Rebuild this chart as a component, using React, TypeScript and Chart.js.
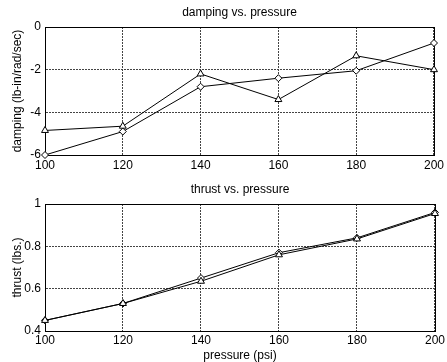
import React, { useEffect, useRef } from "react";
import { Chart, registerables } from "chart.js";

Chart.register(...registerables);

const pressure = [100, 120, 140, 160, 180, 200];
const xTicks = [100, 120, 140, 160, 180, 200];

const dampingDiamond = [-6.0, -4.9, -2.8, -2.4, -2.05, -0.75];
const dampingTriangle = [-4.85, -4.65, -2.2, -3.4, -1.35, -2.0];
const dampingTicks = [0, -2, -4, -6];

const thrustDiamond = [0.45, 0.53, 0.65, 0.77, 0.84, 0.96];
const thrustTriangle = [0.45, 0.53, 0.635, 0.76, 0.835, 0.955];
const thrustTicks = [1, 0.8, 0.6, 0.4];

const FONT = "'Liberation Sans', Arial, sans-serif";

const framePlugin = {
  id: "frame",
  beforeDatasetsDraw(chart: any) {
    const { ctx, chartArea } = chart;
    const { left, top, right, bottom } = chartArea;
    ctx.save();
    ctx.strokeStyle = "#000";
    ctx.lineWidth = 1;
    ctx.strokeRect(Math.round(left) + 0.5, Math.round(top) + 0.5, Math.round(right - left), Math.round(bottom - top));
    ctx.restore();
  },
};

function makeConfig(opts: {
  title: string;
  yTitle: string;
  xTitle?: string;
  yMin: number;
  yMax: number;
  yTicks: number[];
  diamonds: number[];
  triangles: number[];
  xHeight: number;
  titlePad: { top: number; bottom: number };
  xTickPad: number;
}): any {
  const toPts = (arr: number[]) => pressure.map((x, i) => ({ x, y: arr[i] }));
  return {
    type: "line",
    data: {
      datasets: [
        {
          data: toPts(opts.triangles),
          borderColor: "#000",
          borderWidth: 1,
          backgroundColor: "#fff",
          pointStyle: "triangle",
          pointRadius: 4,
          pointBorderColor: "#000",
          pointBackgroundColor: "#fff",
          pointBorderWidth: 1,
          tension: 0,
          fill: false,
          clip: false,
        },
        {
          data: toPts(opts.diamonds),
          borderColor: "#000",
          borderWidth: 1,
          backgroundColor: "#fff",
          pointStyle: "rectRot",
          pointRadius: 3.5,
          pointBorderColor: "#000",
          pointBackgroundColor: "#fff",
          pointBorderWidth: 1,
          tension: 0,
          fill: false,
          clip: false,
        },
      ],
    },
    options: {
      responsive: false,
      animation: false,
      events: [],
      layout: { padding: { left: 0, right: 10, top: 0, bottom: 0 } },
      plugins: {
        legend: { display: false },
        tooltip: { enabled: false },
        title: {
          display: true,
          text: opts.title,
          color: "#000",
          fullSize: false,
          font: { family: FONT, size: 12, weight: "normal", lineHeight: 1.2 },
          padding: opts.titlePad,
        },
      },
      scales: {
        x: {
          type: "linear",
          min: 100,
          max: 200,
          afterFit: (s: any) => {
            s.height = opts.xHeight;
          },
          afterBuildTicks: (s: any) => {
            s.ticks = xTicks.map((v) => ({ value: v }));
          },
          ticks: {
            color: "#000",
            font: { family: FONT, size: 12 },
            padding: opts.xTickPad,
            maxRotation: 0,
            autoSkip: false,
            callback: (v: any) => String(v),
          },
          grid: { color: "#444", lineWidth: 1, drawTicks: false },
          border: { display: true, color: "#000", dash: [2, 1] },
          title: opts.xTitle
            ? {
                display: true,
                text: opts.xTitle,
                color: "#000",
                font: { family: FONT, size: 12, lineHeight: 1.0 },
                padding: { top: 0, bottom: 0 },
              }
            : { display: false },
        },
        y: {
          type: "linear",
          min: opts.yMin,
          max: opts.yMax,
          afterFit: (s: any) => {
            s.width = 45;
          },
          afterBuildTicks: (s: any) => {
            s.ticks = opts.yTicks.map((v) => ({ value: v }));
          },
          ticks: {
            color: "#000",
            font: { family: FONT, size: 12 },
            padding: 4,
            callback: (v: any) => String(Number(Number(v).toFixed(2))),
          },
          grid: { color: "#444", lineWidth: 1, drawTicks: false },
          border: { display: true, color: "#000", dash: [2, 1] },
          title: {
            display: true,
            text: opts.yTitle,
            color: "#000",
            font: { family: FONT, size: 12, lineHeight: 1.2 },
            padding: { top: 10, bottom: 0 },
          },
        },
      },
    },
    plugins: [framePlugin],
  };
}

export default function App() {
  const topRef = useRef<HTMLCanvasElement | null>(null);
  const botRef = useRef<HTMLCanvasElement | null>(null);

  useEffect(() => {
    if (!topRef.current || !botRef.current) return;
    const c1 = new Chart(
      topRef.current,
      makeConfig({
        title: "damping vs. pressure",
        yTitle: "damping (lb-in/rad/sec)",
        yMin: -6,
        yMax: 0,
        yTicks: dampingTicks,
        diamonds: dampingDiamond,
        triangles: dampingTriangle,
        xHeight: 21,
        titlePad: { top: 5, bottom: 7.6 },
        xTickPad: 3,
      })
    );
    const c2 = new Chart(
      botRef.current,
      makeConfig({
        title: "thrust vs. pressure",
        yTitle: "thrust (lbs.)",
        xTitle: "pressure (psi)",
        yMin: 0.4,
        yMax: 1,
        yTicks: thrustTicks,
        diamonds: thrustDiamond,
        triangles: thrustTriangle,
        xHeight: 31,
        titlePad: { top: 6.8, bottom: 6.8 },
        xTickPad: 2,
      })
    );
    return () => {
      c1.destroy();
      c2.destroy();
    };
  }, []);

  return (
    <div
      style={{
        position: "fixed",
        left: 0,
        top: 0,
        width: 447,
        height: 362,
        background: "#fff",
      }}
    >
      <canvas ref={topRef} width={447} height={176} style={{ display: "block", width: 447, height: 176 }} />
      <canvas ref={botRef} width={447} height={186} style={{ display: "block", width: 447, height: 186 }} />
    </div>
  );
}
